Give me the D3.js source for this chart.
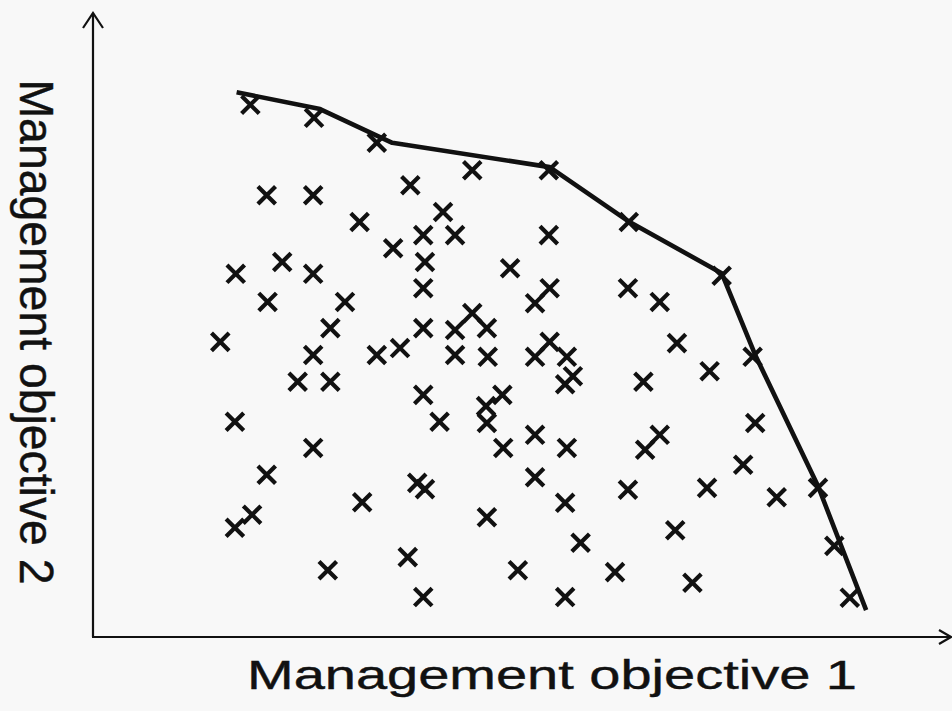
<!DOCTYPE html>
<html>
<head>
<meta charset="utf-8">
<script src="https://d3js.org/d3.v7.min.js"></script>
<style>
  html, body { margin: 0; padding: 0; background: #f8f8f8; }
  svg { display: block; }
</style>
</head>
<body>
<div id="chart"></div>
<script>
// candidate solutions (objective 1, objective 2), arbitrary units 0-100
var obj1 = [18.3, 25.7, 33.0, 44.1, 53.0, 36.9, 20.2, 25.6, 40.7, 31.0,
  38.4, 42.1, 53.0, 62.3, 34.9, 38.6, 22.0, 48.5, 25.6, 16.6,
  73.1, 38.4, 53.1, 62.2, 20.3, 29.3, 51.4, 65.9, 44.1, 27.6,
  38.4, 42.1, 45.8, 14.8, 35.7, 53.1, 67.9, 25.6, 33.0, 42.1,
  45.9, 51.4, 55.1, 76.7, 71.7, 55.8, 23.8, 27.6, 64.0, 54.9,
  38.4, 47.6, 45.7, 45.8, 40.3, 16.5, 77.0, 51.4, 65.9, 25.6,
  47.7, 55.1, 64.2, 75.6, 20.2, 51.4, 37.7, 38.6, 62.2, 71.4,
  84.3, 79.5, 31.3, 54.9, 18.5, 45.8, 16.5, 67.7, 56.7, 86.2,
  36.6, 27.3, 49.4, 60.7, 69.7, 38.4, 54.9, 88.0];
var obj2 = [85.3, 83.2, 79.2, 74.8, 74.8, 72.4, 70.8, 70.8, 68.1, 66.5,
  64.4, 64.4, 64.4, 66.5, 62.3, 60.1, 60.1, 59.1, 58.2, 58.2,
  57.9, 55.9, 55.9, 55.9, 53.7, 53.7, 53.5, 53.7, 51.9, 49.5,
  49.5, 49.2, 49.5, 47.3, 46.3, 47.3, 47.1, 45.2, 45.2, 45.2,
  44.9, 44.9, 44.9, 44.9, 42.6, 41.8, 40.9, 40.9, 40.9, 40.5,
  38.8, 38.8, 37.0, 34.3, 34.5, 34.5, 34.3, 32.4, 32.4, 30.3,
  30.3, 30.3, 30.0, 27.6, 26.0, 25.6, 24.7, 23.7, 23.6, 23.9,
  23.9, 22.4, 21.6, 21.5, 19.6, 19.2, 17.5, 17.1, 15.1, 14.6,
  12.8, 10.7, 10.7, 10.4, 8.7, 6.4, 6.4, 6.3];

// hand drawn trade-off frontier
var frontX = [16.7, 26.4, 34.8, 53.1, 62.4, 73.1, 77.0, 84.3, 89.9];
var frontY = [87.3, 84.6, 79.2, 75.3, 66.5, 58.3, 45.2, 24.2, 4.3];

var xTitle = "Management objective 1";
var yTitle = "Management objective 2";

var svgWidth = 952;
var svgHeight = 711;

var svg = d3.select("#chart")
  .append("svg")
  .attr("width", svgWidth)
  .attr("height", svgHeight);

// scales (axes meet at 0,0)
var x = d3.scaleLinear().domain([0, 100]).range([93, 953]);
var y = d3.scaleLinear().domain([0, 100]).range([637, 13]);

var ink = "#111";

// axes with open arrow heads
var axes = svg.append("g")
  .attr("fill", "none")
  .attr("stroke", ink)
  .attr("stroke-width", 2.2);

axes.append("line")
  .attr("x1", x(0)).attr("y1", y(0))
  .attr("x2", x(0)).attr("y2", y(100));
axes.append("path")
  .attr("d", `M${x(0) - 10},${y(100) + 15} L${x(0)},${y(100)} L${x(0) + 10},${y(100) + 15}`);

axes.append("line")
  .attr("x1", x(0) - 1).attr("y1", y(0))
  .attr("x2", x(100) - 2).attr("y2", y(0));
axes.append("path")
  .attr("d", `M${x(100) - 14},${y(0) - 7} L${x(100) - 2},${y(0)} L${x(100) - 14},${y(0) + 7}`);

// frontier line
var line = d3.line()
  .x(d => x(d[0]))
  .y(d => y(d[1]));

svg.append("path")
  .datum(d3.zip(frontX, frontY))
  .attr("d", line)
  .attr("fill", "none")
  .attr("stroke", ink)
  .attr("stroke-width", 4.6)
  .attr("stroke-linejoin", "round");

// x markers
var s = 8.8;
svg.append("g")
  .selectAll("path")
  .data(d3.zip(obj1, obj2))
  .enter()
  .append("path")
  .attr("transform", d => `translate(${x(d[0])},${y(d[1])})`)
  .attr("d", `M${-s},${-s}L${s},${s}M${-s},${s}L${s},${-s}`)
  .attr("fill", "none")
  .attr("stroke", ink)
  .attr("stroke-width", 4.2);

// axis titles
svg.append("text")
  .attr("x", 552)
  .attr("y", 689)
  .attr("text-anchor", "middle")
  .attr("font-family", "Liberation Sans, Arial, sans-serif")
  .attr("font-size", 40)
  .attr("textLength", 610)
  .attr("lengthAdjust", "spacingAndGlyphs")
  .attr("fill", ink)
  .attr("stroke", ink)
  .attr("stroke-width", 0.4)
  .text(xTitle);

svg.append("text")
  .attr("transform", "translate(20, 332) rotate(90)")
  .attr("text-anchor", "middle")
  .attr("font-family", "Liberation Sans, Arial, sans-serif")
  .attr("font-size", 48)
  .attr("textLength", 505)
  .attr("lengthAdjust", "spacingAndGlyphs")
  .attr("fill", ink)
  .attr("stroke", ink)
  .attr("stroke-width", 0.4)
  .text(yTitle);
</script>
</body>
</html>
